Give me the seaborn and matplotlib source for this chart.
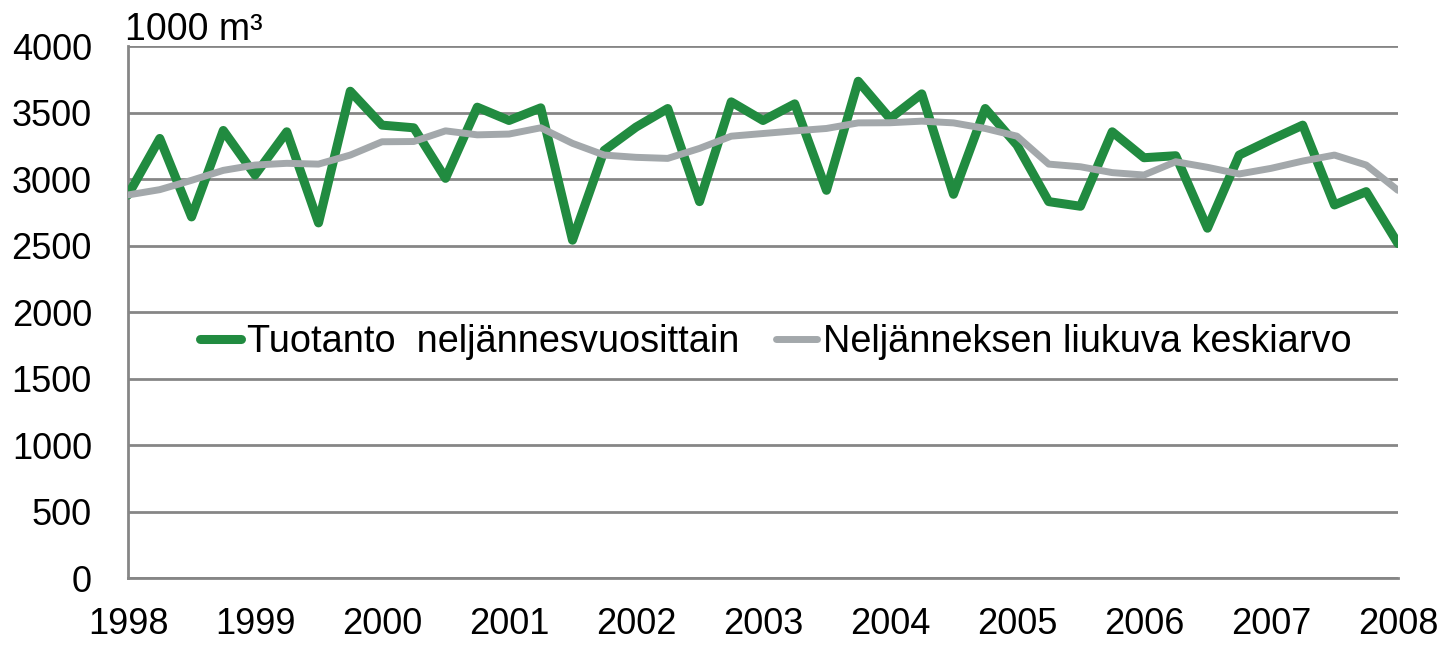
import numpy as np
import pandas as pd
import matplotlib
matplotlib.use("Agg")
import matplotlib.pyplot as plt
import seaborn as sns
from matplotlib.lines import Line2D

# ── Datos (neljännesvuosittain 1998–2008) ───────────────
vuodet = [1998 + i / 4 for i in range(41)]

tuotanto = [2880, 3305, 2715, 3365, 3030, 3355, 2670, 3660,
            3405, 3385, 3005, 3540, 3440, 3535, 2540, 3215,
            3390, 3530, 2830, 3580, 3440, 3565, 2915, 3735,
            3455, 3640, 2885, 3530, 3255, 2830, 2795, 3355,
            3160, 3175, 2630, 3180, 3295, 3405, 2805, 2905,
            2515]

keskiarvo = [2880, 2920, 2990, 3065, 3105, 3118, 3112, 3180,
             3280, 3282, 3362, 3332, 3338, 3385, 3268, 3180,
             3163, 3155, 3230, 3322, 3342, 3362, 3380, 3422,
             3423, 3435, 3422, 3380, 3322, 3112, 3092, 3048,
             3030, 3130, 3088, 3038, 3080, 3135, 3180, 3105,
             2915]

sarjat = ["Tuotanto  neljännesvuosittain", "Neljänneksen liukuva keskiarvo"]
vuosi_tikit = list(range(1998, 2009))
y_tikit = list(range(0, 4001, 500))

df = pd.DataFrame({
    "vuosi": vuodet * 2,
    "arvo": tuotanto + keskiarvo,
    "sarja": [sarjat[0]] * len(vuodet) + [sarjat[1]] * len(vuodet),
})

VIHREA = "#218B40"
HARMAA = "#A3A8AB"

# ── Tyyli ───────────────────────────────────────────────
sns.set_style("white")
plt.rcParams["font.family"] = ["Liberation Sans", "DejaVu Sans"]
plt.rcParams["text.color"] = "black"

fig = plt.figure(figsize=(14.5, 6.47), dpi=100)
ax = fig.add_axes([0.0883, 0.1066, 0.8758, 0.8223])

sns.lineplot(data=df, x="vuosi", y="arvo", hue="sarja", hue_order=sarjat,
             palette=[VIHREA, HARMAA], ax=ax, legend=False, sort=False)
ax.lines[0].set_linewidth(6.5)
ax.lines[1].set_linewidth(5)
ax.lines[0].set_zorder(3)
ax.lines[1].set_zorder(4)

# ── Akselit ─────────────────────────────────────────────
ax.set_xlim(1998, 2008)
ax.set_ylim(0, 4000)
ax.set_xticks(vuosi_tikit)
ax.set_yticks(y_tikit)
ax.set_xlabel("")
ax.set_ylabel("")
ax.yaxis.grid(True, color="#868686", linewidth=2)
ax.xaxis.grid(False)
ax.set_axisbelow(True)

for s in ["top", "right"]:
    ax.spines[s].set_visible(False)
for s in ["left", "bottom"]:
    ax.spines[s].set_color("#868686")
    ax.spines[s].set_linewidth(2)

ax.tick_params(axis="both", which="major", labelsize=26, colors="#868686",
               labelcolor="black", width=2, length=9, direction="out")
ax.tick_params(axis="x", pad=12)
ax.tick_params(axis="y", pad=17)

# ── Legenda ─────────────────────────────────────────────
kahvat = [Line2D([0], [0], color=VIHREA, lw=6.5),
          Line2D([0], [0], color=HARMAA, lw=5)]
ax.legend(kahvat, sarjat, loc="center", bbox_to_anchor=(0.510, 0.444),
          ncol=2, frameon=False, fontsize=27.3, handlelength=1.1,
          handletextpad=0.15, columnspacing=0.95, borderpad=0)

# ── Yksikkö ─────────────────────────────────────────────
fig.text(0.086, 0.938, "1000 m³", fontsize=27, ha="left", va="baseline")

fig.savefig("out.png", dpi=100)
